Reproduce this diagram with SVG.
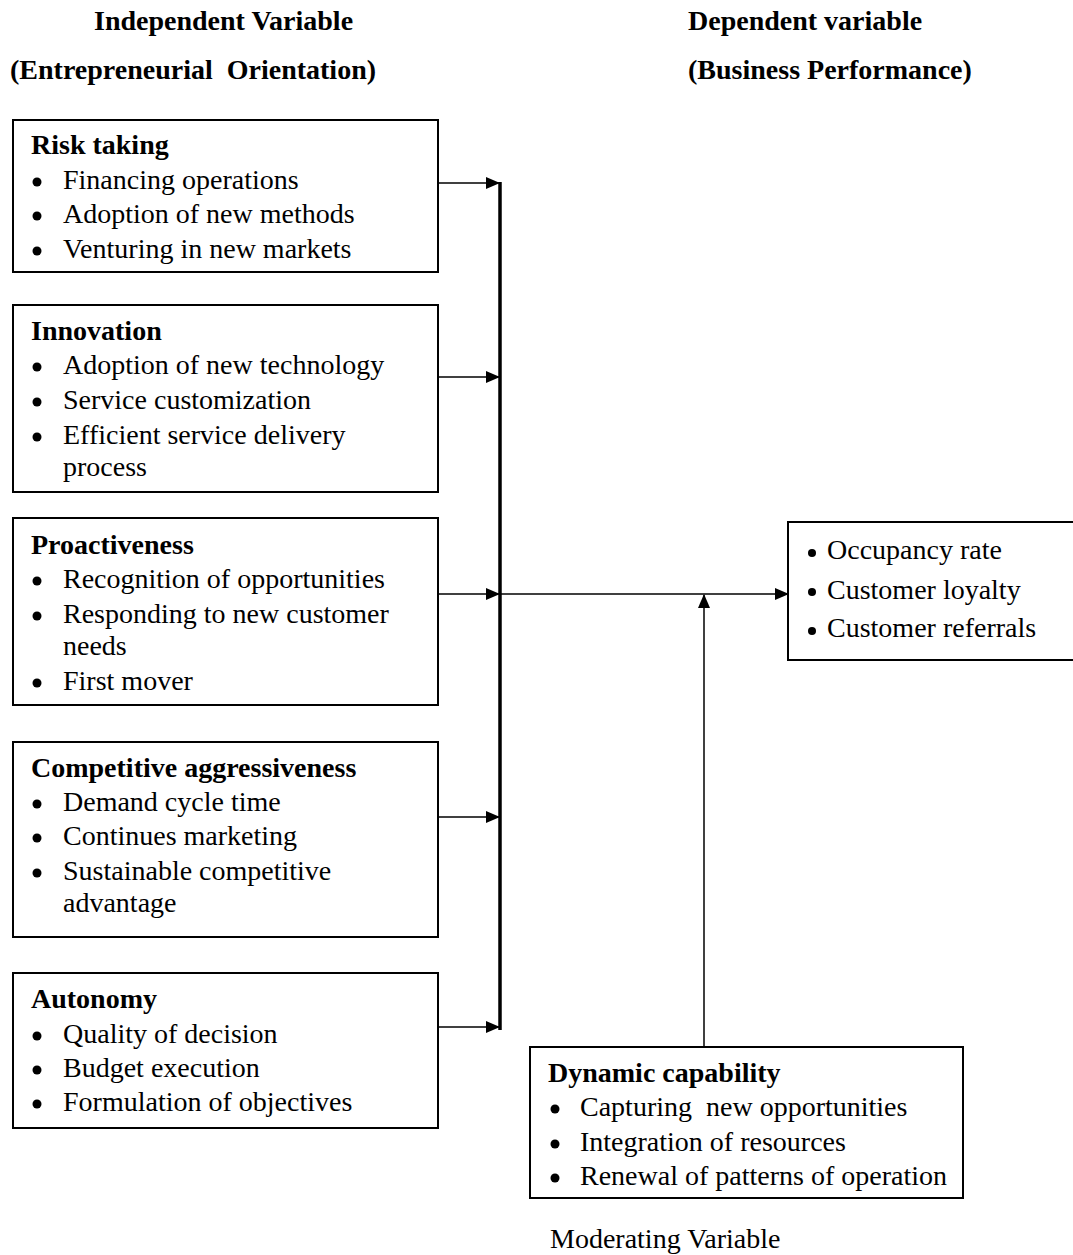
<svg xmlns="http://www.w3.org/2000/svg" width="1073" height="1255" viewBox="0 0 1073 1255">
<defs>
<marker id="ah" markerWidth="14" markerHeight="12" refX="13" refY="6" orient="auto" markerUnits="userSpaceOnUse">
<path d="M0,0 L14,6 L0,12 Z" fill="#000"/>
</marker>
<style>
text{font-family:"Liberation Serif","Times New Roman",serif;fill:#000;}
.h{font-size:28px;font-weight:bold;}
.t{font-size:28px;font-weight:bold;}
.b{font-size:28px;}
.box{fill:#fff;stroke:#000;stroke-width:2;}
.ln{stroke:#000;stroke-width:1.5;fill:none;}
.bus{stroke:#000;stroke-width:3.5;fill:none;}
.dot{fill:#000;}
</style>
</defs>
<rect width="1073" height="1255" fill="#fff"/>
<g id="headers">
<text class="h" x="94" y="30">Independent Variable</text>
<text class="h" x="10" y="79" xml:space="preserve">(Entrepreneurial  Orientation)</text>
<text class="h" x="688" y="30">Dependent variable</text>
<text class="h" x="688" y="79">(Business Performance)</text>
</g>
<g id="risk">
<rect class="box" x="13" y="120" width="425" height="152"/>
<text class="t" x="31" y="154">Risk taking</text>
<circle class="dot" cx="37" cy="182" r="4.5"/><text class="b" x="63" y="189">Financing operations</text>
<circle class="dot" cx="37" cy="216" r="4.5"/><text class="b" x="63" y="223">Adoption of new methods</text>
<circle class="dot" cx="37" cy="251" r="4.5"/><text class="b" x="63" y="258">Venturing in new markets</text>
</g>
<g id="innovation">
<rect class="box" x="13" y="305" width="425" height="187"/>
<text class="t" x="31" y="340">Innovation</text>
<circle class="dot" cx="37" cy="367" r="4.5"/><text class="b" x="63" y="374">Adoption of new technology</text>
<circle class="dot" cx="37" cy="402" r="4.5"/><text class="b" x="63" y="409">Service customization</text>
<circle class="dot" cx="37" cy="437" r="4.5"/><text class="b" x="63" y="444">Efficient service delivery</text>
<text class="b" x="63" y="476">process</text>
</g>
<g id="proactiveness">
<rect class="box" x="13" y="518" width="425" height="187"/>
<text class="t" x="31" y="554">Proactiveness</text>
<circle class="dot" cx="37" cy="581" r="4.5"/><text class="b" x="63" y="588">Recognition of opportunities</text>
<circle class="dot" cx="37" cy="616" r="4.5"/><text class="b" x="63" y="623">Responding to new customer</text>
<text class="b" x="63" y="655">needs</text>
<circle class="dot" cx="37" cy="683" r="4.5"/><text class="b" x="63" y="690">First mover</text>
</g>
<g id="competitive">
<rect class="box" x="13" y="742" width="425" height="195"/>
<text class="t" x="31" y="777">Competitive aggressiveness</text>
<circle class="dot" cx="37" cy="804" r="4.5"/><text class="b" x="63" y="811">Demand cycle time</text>
<circle class="dot" cx="37" cy="838" r="4.5"/><text class="b" x="63" y="845">Continues marketing</text>
<circle class="dot" cx="37" cy="873" r="4.5"/><text class="b" x="63" y="880">Sustainable competitive</text>
<text class="b" x="63" y="912">advantage</text>
</g>
<g id="autonomy">
<rect class="box" x="13" y="973" width="425" height="155"/>
<text class="t" x="31" y="1008">Autonomy</text>
<circle class="dot" cx="37" cy="1036" r="4.5"/><text class="b" x="63" y="1043">Quality of decision</text>
<circle class="dot" cx="37" cy="1070" r="4.5"/><text class="b" x="63" y="1077">Budget execution</text>
<circle class="dot" cx="37" cy="1104" r="4.5"/><text class="b" x="63" y="1111">Formulation of objectives</text>
</g>
<g id="performance">
<rect class="box" x="788" y="522" width="290" height="138"/>
<circle class="dot" cx="812" cy="553" r="4"/><text class="b" x="827" y="559">Occupancy rate</text>
<circle class="dot" cx="812" cy="592" r="4"/><text class="b" x="827" y="599">Customer loyalty</text>
<circle class="dot" cx="812" cy="631" r="4"/><text class="b" x="827" y="637">Customer referrals</text>
</g>
<g id="dynamic">
<rect class="box" x="530" y="1047" width="433" height="151"/>
<text class="t" x="548" y="1082">Dynamic capability</text>
<circle class="dot" cx="555" cy="1109" r="4.5"/><text class="b" x="580" y="1116" xml:space="preserve">Capturing  new opportunities</text>
<circle class="dot" cx="555" cy="1144" r="4.5"/><text class="b" x="580" y="1151">Integration of resources</text>
<circle class="dot" cx="555" cy="1178" r="4.5"/><text class="b" x="580" y="1185">Renewal of patterns of operation</text>
<text class="b" x="550" y="1248">Moderating Variable</text>
</g>
<g id="connectors">
<line class="bus" x1="500" y1="182" x2="500" y2="1030"/>
<line class="ln" x1="438" y1="183" x2="499" y2="183" marker-end="url(#ah)"/>
<line class="ln" x1="438" y1="377" x2="499" y2="377" marker-end="url(#ah)"/>
<line class="ln" x1="438" y1="594" x2="499" y2="594" marker-end="url(#ah)"/>
<line class="ln" x1="438" y1="817" x2="499" y2="817" marker-end="url(#ah)"/>
<line class="ln" x1="438" y1="1027" x2="499" y2="1027" marker-end="url(#ah)"/>
<line class="ln" x1="501" y1="594" x2="788" y2="594" marker-end="url(#ah)"/>
<line class="ln" x1="704" y1="1047" x2="704" y2="595" marker-end="url(#ah)"/>
</g>
</svg>
